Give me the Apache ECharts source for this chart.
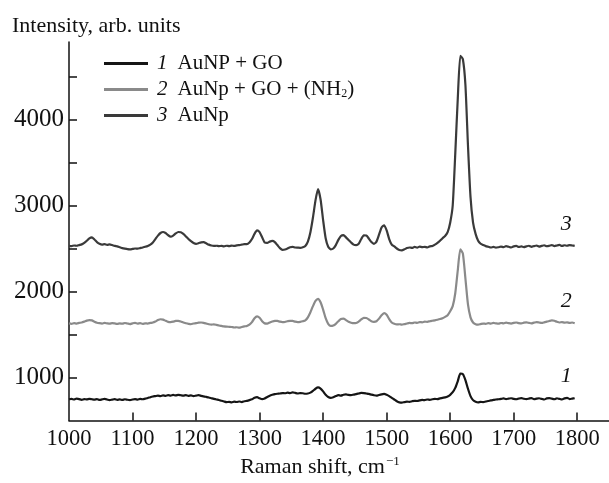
<!DOCTYPE html>
<html>
<head>
<meta charset="utf-8">
<script src="https://cdn.jsdelivr.net/npm/echarts@6/dist/echarts.min.js"></script>
<style>html,body{margin:0;padding:0;background:#fff;}#chart{width:609px;height:483px;}</style>
</head>
<body>
<div id="chart"></div>
<script>
// Raman shift grid, cm^-1 (1000 ... 1796, step 4)
const ramanShift = [];
for (let k = 0; k < 200; k++) ramanShift.push(1000 + 4 * k);

const seriesNames = ['AuNP + GO', 'AuNp + GO + (NH2)', 'AuNp'];
const seriesNumbers = ['1', '2', '3'];

// 1: AuNP + GO
const intensityAuNP_GO = [
  748,752,745,755,750,742,750,746,752,748,
  744,750,740,746,752,745,738,744,750,742,
  746,740,748,742,738,745,750,744,752,748,
  755,762,772,780,785,790,785,792,788,795,
  790,798,792,800,795,790,796,788,792,785,
  790,795,788,782,775,768,760,752,745,740,
  730,722,715,718,712,720,716,722,715,725,
  730,738,748,765,772,760,750,758,775,790,
  800,808,812,815,820,818,825,820,828,822,
  815,820,818,812,815,825,845,870,885,872,
  840,800,775,765,772,785,795,790,800,805,
  798,795,802,808,815,822,820,815,810,802,
  795,790,798,805,810,800,785,765,745,725,
  712,708,715,720,718,725,730,728,735,740,
  738,745,742,748,752,750,758,765,770,780,
  800,830,880,960,1045,1040,970,870,785,738,
  720,712,718,715,722,728,735,740,745,748,
  752,758,750,755,760,752,748,756,762,754,
  750,756,762,748,755,760,752,745,758,762,
  755,748,760,752,745,758,765,750,755,760
];

// 2: AuNp + GO + (NH2)
const intensityAuNP_GO_NH2 = [
  1630,1625,1632,1628,1635,1640,1650,1662,1668,1665,
  1650,1638,1632,1628,1635,1630,1626,1633,1629,1624,
  1630,1626,1634,1628,1622,1630,1636,1628,1632,1625,
  1630,1628,1635,1640,1652,1668,1678,1674,1660,1648,
  1645,1650,1658,1660,1652,1640,1632,1625,1620,1628,
  1632,1638,1640,1636,1628,1620,1615,1618,1612,1605,
  1600,1595,1592,1590,1588,1582,1585,1580,1588,1595,
  1600,1615,1645,1690,1712,1695,1655,1630,1628,1640,
  1652,1660,1658,1650,1645,1648,1655,1660,1658,1650,
  1645,1648,1655,1665,1700,1760,1830,1890,1915,1875,
  1790,1690,1625,1600,1605,1625,1655,1680,1685,1668,
  1650,1638,1632,1635,1650,1675,1695,1692,1675,1655,
  1648,1655,1685,1725,1750,1730,1680,1640,1625,1618,
  1620,1615,1622,1628,1635,1632,1640,1636,1645,1642,
  1650,1648,1655,1660,1665,1672,1680,1690,1705,1725,
  1770,1830,1980,2250,2490,2440,2150,1850,1700,1640,
  1620,1615,1622,1628,1625,1632,1628,1635,1630,1626,
  1634,1630,1638,1632,1628,1636,1640,1633,1630,1638,
  1642,1636,1630,1638,1645,1640,1635,1642,1650,1658,
  1665,1660,1648,1640,1645,1638,1642,1635,1640,1632
];

// 3: AuNp
const intensityAuNP = [
  2530,2528,2535,2532,2540,2548,2565,2590,2618,2630,
  2605,2575,2555,2545,2550,2542,2548,2540,2530,2525,
  2515,2505,2498,2492,2490,2495,2500,2498,2505,2512,
  2520,2530,2545,2570,2610,2650,2680,2692,2680,2655,
  2638,2650,2675,2692,2690,2670,2640,2610,2585,2565,
  2555,2562,2572,2575,2560,2545,2535,2530,2532,2528,
  2530,2525,2532,2528,2534,2530,2536,2540,2545,2550,
  2550,2570,2610,2670,2710,2690,2630,2570,2565,2580,
  2588,2575,2540,2505,2485,2488,2500,2515,2520,2512,
  2510,2508,2515,2530,2580,2690,2860,3060,3190,3070,
  2830,2620,2520,2490,2500,2540,2600,2645,2655,2630,
  2600,2570,2545,2540,2555,2610,2652,2650,2615,2575,
  2555,2580,2660,2745,2770,2710,2610,2545,2525,2500,
  2482,2478,2490,2505,2512,2508,2518,2510,2522,2515,
  2520,2512,2525,2530,2545,2565,2590,2620,2645,2690,
  2800,3000,3600,4250,4740,4700,4400,3700,3100,2800,
  2670,2590,2555,2540,2528,2520,2512,2518,2510,2515,
  2522,2515,2528,2520,2512,2525,2530,2518,2524,2516,
  2525,2532,2520,2528,2535,2522,2530,2538,2526,2532,
  2540,2528,2535,2542,2530,2538,2532,2540,2535,2530
];

const xTicks = [1100,1200,1300,1400,1500,1600,1700,1800];
const xLabels = [1000,1100,1200,1300,1400,1500,1600,1700,1800];
const yTicks = [1000,1500,2000,2500,3000,3500,4000,4500];
const yLabels = [1000,2000,3000,4000];

const FONT = 'Liberation Serif';
const colors = ['#151515', '#8a8a8a', '#3a3a3a'];
const allData = [intensityAuNP_GO, intensityAuNP_GO_NH2, intensityAuNP];

function pairs(arr) { return ramanShift.map((x, i) => [x, arr[i]]); }

const chart = echarts.init(document.getElementById('chart'), null, {renderer: 'canvas'});
const series = allData.map((d, i) => ({
  name: seriesNames[i],
  type: 'line',
  data: pairs(d),
  showSymbol: false,
  smooth: 0.2,
  lineStyle: {color: colors[i], width: 2.2},
  itemStyle: {color: colors[i]},
  emphasis: {disabled: true},
  endLabel: {
    show: true,
    formatter: seriesNumbers[i],
    fontFamily: FONT, fontSize: 22, fontStyle: 'italic', color: '#111',
    offset: [-22, -22]
  }
}));

chart.setOption({
  animation: false,
  backgroundColor: '#fff',
  title: {
    text: 'Intensity, arb. units',
    left: 12, top: 15, padding: 0,
    textStyle: {fontFamily: FONT, fontSize: 22, fontWeight: 'normal', color: '#111'}
  },
  legend: {
    orient: 'vertical',
    left: 104, top: 53, padding: 0,
    itemWidth: 44, itemHeight: 3, itemGap: 5,
    icon: 'rect',
    data: seriesNames,
    formatter: function (name) {
      const i = seriesNames.indexOf(name);
      const txt = i === 1 ? 'AuNp + GO + (NH{sub|2})' : name;
      return '{num|' + seriesNumbers[i] + '}' + txt;
    },
    textStyle: {
      fontFamily: FONT, fontSize: 21, color: '#111', lineHeight: 21,
      rich: {
        num: {fontFamily: FONT, fontSize: 21, fontStyle: 'italic', padding: [0, 10, 0, 4], color: '#111'},
        sub: {fontFamily: FONT, fontSize: 12, verticalAlign: 'bottom', padding: [16, 0, 0, 0], color: '#111'}
      }
    }
  },
  grid: {left: 69, right: 0, top: 42, bottom: 58},
  xAxis: {
    type: 'value', min: 1000, max: 1850, interval: 100,
    name: 'Raman shift, cm{sup|\u22121}',
    nameLocation: 'middle', nameGap: 33,
    nameTextStyle: {
      fontFamily: FONT, fontSize: 22, color: '#111', padding: [0, 38, 0, 0],
      rich: {sup: {fontFamily: FONT, fontSize: 13, verticalAlign: 'top', padding: [0, 0, 10, 1], color: '#111'}}
    },
    axisLine: {lineStyle: {color: '#111', width: 1.5}},
    axisTick: {inside: true, length: 8, customValues: xTicks, lineStyle: {color: '#111', width: 1.5}},
    axisLabel: {customValues: xLabels, formatter: v => String(v), fontFamily: FONT, fontSize: 22.5, color: '#111', margin: 7},
    splitLine: {show: false}
  },
  yAxis: {
    type: 'value', min: 500, max: 4900, interval: 500,
    axisLine: {show: true, lineStyle: {color: '#111', width: 1.5}},
    axisTick: {show: true, inside: true, length: 8, customValues: yTicks, lineStyle: {color: '#111', width: 1.5}},
    axisLabel: {customValues: yLabels, formatter: v => String(v), fontFamily: FONT, fontSize: 25, color: '#111', margin: 5},
    splitLine: {show: false}
  },
  series: series
});
</script>
</body>
</html>
